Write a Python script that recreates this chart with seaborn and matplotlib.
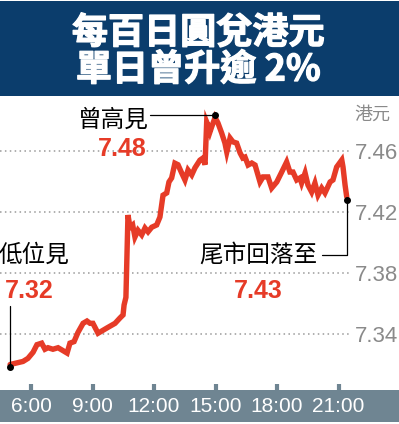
import numpy as np
import pandas as pd
import matplotlib
matplotlib.use("Agg")
import matplotlib.pyplot as plt
from matplotlib.patches import Rectangle
from matplotlib import font_manager
import matplotlib.patheffects as pe
import seaborn as sns

# ---------------- data ----------------
hours = [4.98, 5.61, 5.85, 6.10, 6.29, 6.52, 6.68, 6.83, 7.07, 7.32, 7.51, 7.76, 7.90, 8.10,
         8.29, 8.54, 8.73, 8.88, 9.02, 9.27, 9.71, 10.10, 10.34, 10.49, 10.54, 10.63, 10.73,
         10.83, 10.96, 11.07, 11.22, 11.40, 11.56, 11.71, 11.89, 12.13, 12.29, 12.44, 12.62,
         12.73, 12.86, 13.02, 13.17, 13.35, 13.51, 13.66, 13.84, 14.00, 14.24, 14.39, 14.49,
         14.57, 14.63, 14.73, 14.81, 14.98, 15.12, 15.30, 15.46, 15.55, 15.71, 15.85, 16.03,
         16.20, 16.33, 16.44, 16.59, 16.77, 16.93, 17.17, 17.32, 17.56, 17.74, 17.99, 18.23,
         18.47, 18.63, 18.78, 18.96, 19.12, 19.20, 19.37, 19.51, 19.69, 19.85, 20.00, 20.18,
         20.34, 20.59, 20.73, 20.91, 21.16, 21.22, 21.32, 21.40]
rates = [7.320, 7.322, 7.324, 7.328, 7.333, 7.334, 7.330, 7.331, 7.330, 7.331, 7.3295, 7.3275,
         7.334, 7.335, 7.341, 7.347, 7.3485, 7.347, 7.347, 7.3405, 7.344, 7.347, 7.3505, 7.3525,
         7.359, 7.364, 7.418, 7.410, 7.4115, 7.4036, 7.408, 7.405, 7.4095, 7.407, 7.410, 7.4115,
         7.4167, 7.431, 7.4325, 7.4397, 7.4423, 7.452, 7.451, 7.4456, 7.441, 7.4475, 7.4443,
         7.449, 7.454, 7.4554, 7.451, 7.479, 7.477, 7.4725, 7.4757, 7.482, 7.4784, 7.4718,
         7.4652, 7.4593, 7.4685, 7.466, 7.4652, 7.4587, 7.4554, 7.456, 7.4508, 7.4521, 7.4508,
         7.4397, 7.443, 7.443, 7.4357, 7.4397, 7.4462, 7.4528, 7.4462, 7.4462, 7.441, 7.4423,
         7.439, 7.4456, 7.4377, 7.4331, 7.439, 7.4311, 7.4357, 7.4325, 7.4397, 7.441, 7.4495,
         7.4541, 7.4495, 7.4377, 7.430]

x_ticks = [6, 9, 12, 15, 18, 21]
x_tick_labels = ["6:00", "9:00", "12:00", "15:00", "18:00", "21:00"]
y_ticks = [7.34, 7.38, 7.42, 7.46]
y_tick_labels = ["7.34", "7.38", "7.42", "7.46"]

title_lines = ["每百日圓兌港元", "單日曾升逾 2%"]
unit_label = "港元"
high_label, high_value = "曾高見", "7.48"
low_label, low_value = "低位見", "7.32"
close_label, close_value = "尾市回落至", "7.43"

# ---------------- style ----------------
W, H = 399, 424
RED = "#e63b27"
NAVY = "#0b3d6c"
BAND = "#6f8592"
GREY = "#8a8a8a"

sns.set_theme(style="white")
CJK = "Noto Sans CJK TC"
plt.rcParams["font.family"] = [CJK, "DejaVu Sans"]

names = {f.name for f in font_manager.fontManager.ttflist}
NARROW = "Liberation Sans Narrow" if "Liberation Sans Narrow" in names else "Liberation Sans"
xsize = 17 if NARROW == "Liberation Sans Narrow" else 15

fig = plt.figure(figsize=(W / 100, H / 100), dpi=100)
fig.patch.set_facecolor("white")

def fy(py):  # pixel-from-top -> figure fraction
    return 1 - py / H

# title band
fig.patches.append(Rectangle((0, fy(96)), 1, fy(1) - fy(96), transform=fig.transFigure,
                             facecolor=NAVY, edgecolor="none", zorder=-5))
for line, ypx in zip(title_lines, (33, 70)):
    fig.text(0.497, fy(ypx), line, color="white", fontsize=26, fontweight="bold",
             ha="center", va="center", family=[CJK, "DejaVu Sans"], zorder=5,
             path_effects=[pe.withStroke(linewidth=0.9, foreground="white")])

# bottom band
fig.patches.append(Rectangle((0, fy(422)), 1, fy(390) - fy(422), transform=fig.transFigure,
                             facecolor=BAND, edgecolor="none", zorder=-5))

# main axes: x pixels 0..352, y pixels 96..390
ax = fig.add_axes([0, fy(390), 352 / W, (390 - 96) / H])
ax.set_zorder(2)
ax.set_facecolor("none")
px_per_hour = 20.5
ax.set_xlim(6 - 31 / px_per_hour, 6 + (352 - 31) / px_per_hour)
ax.set_ylim(7.46 - (390 - 151) / 1525, 7.46 + (151 - 96) / 1525)

df = pd.DataFrame({"hour": hours, "rate": rates})
sns.lineplot(data=df, x="hour", y="rate", ax=ax, color=RED, linewidth=3.9,
             estimator=None, sort=False, zorder=3)
ax.lines[-1].set_solid_joinstyle("miter")

for s in ax.spines.values():
    s.set_visible(False)
ax.set_xlabel("")
ax.set_ylabel("")

for yv in y_ticks:
    ax.axhline(yv, color="#9a9a9a", linewidth=1.1, linestyle=(0, (1, 2.2)), zorder=1)

ax.yaxis.tick_right()
ax.set_yticks(y_ticks)
ax.set_yticklabels(y_tick_labels)
ax.tick_params(axis="y", length=0, pad=2, labelsize=16, labelcolor=GREY)
for t in ax.get_yticklabels():
    t.set_family("Liberation Sans")

ax.set_xticks(x_ticks)
ax.set_xticklabels(x_tick_labels)
ax.tick_params(axis="x", direction="in", length=4, width=3, color=BAND, pad=5,
               labelsize=xsize, labelcolor="white", bottom=True)
for t in ax.get_xticklabels():
    t.set_family(NARROW)

# unit label
ax.text(1.008, 7.4836, unit_label, transform=ax.get_yaxis_transform(), color=GREY,
        fontsize=13, ha="left", va="center", clip_on=False)

# annotations
i_hi = int(np.argmax(rates))
hx, hy = hours[i_hi], rates[i_hi] + 0.0015
lx, ly = hours[0], rates[0] - 0.0015
cx, cy = hours[-1], rates[-1] - 0.002

ax.plot([hx], [hy], "o", color="black", markersize=4, zorder=5)
ax.plot([lx], [ly], "o", color="black", markersize=4, zorder=5)
ax.plot([cx], [cy], "o", color="black", markersize=4, zorder=5)

# high
ax.plot([6 + (150 - 31) / px_per_hour, hx], [hy, hy], color="black", linewidth=0.9, zorder=4)
ax.text(6 + (113 - 31) / px_per_hour, 7.46 + (151 - 120) / 1525, high_label, fontsize=17,
        ha="center", va="center", color="black")
ax.text(6 + (122 - 31) / px_per_hour, 7.46 + (151 - 149) / 1525, high_value, fontsize=18,
        fontweight="bold", ha="center", va="center", color=RED, family="Liberation Sans")

# low
ax.text(6 + (38 - 31) / px_per_hour - 0.2, 7.46 - (255 - 151) / 1525, low_label, fontsize=17,
        ha="center", va="center", color="black")
ax.text(6 + (29 - 31) / px_per_hour, 7.46 - (291 - 151) / 1525, low_value, fontsize=18,
        fontweight="bold", ha="center", va="center", color=RED, family="Liberation Sans")
ax.plot([lx, lx], [7.46 - (306 - 151) / 1525, ly], color="black", linewidth=0.9, zorder=4)

# close
ax.text(6 + (258 - 31) / px_per_hour, 7.46 - (255 - 151) / 1525, close_label, fontsize=17,
        ha="center", va="center", color="black")
ax.text(6 + (258 - 31) / px_per_hour, 7.46 - (291 - 151) / 1525, close_value, fontsize=18,
        fontweight="bold", ha="center", va="center", color=RED, family="Liberation Sans")
yc = 7.46 - (255 - 151) / 1525
ax.plot([6 + (322 - 31) / px_per_hour, cx, cx], [yc, yc, cy], color="black",
        linewidth=0.9, zorder=4)

fig.savefig("out.png", dpi=100, facecolor="white")
